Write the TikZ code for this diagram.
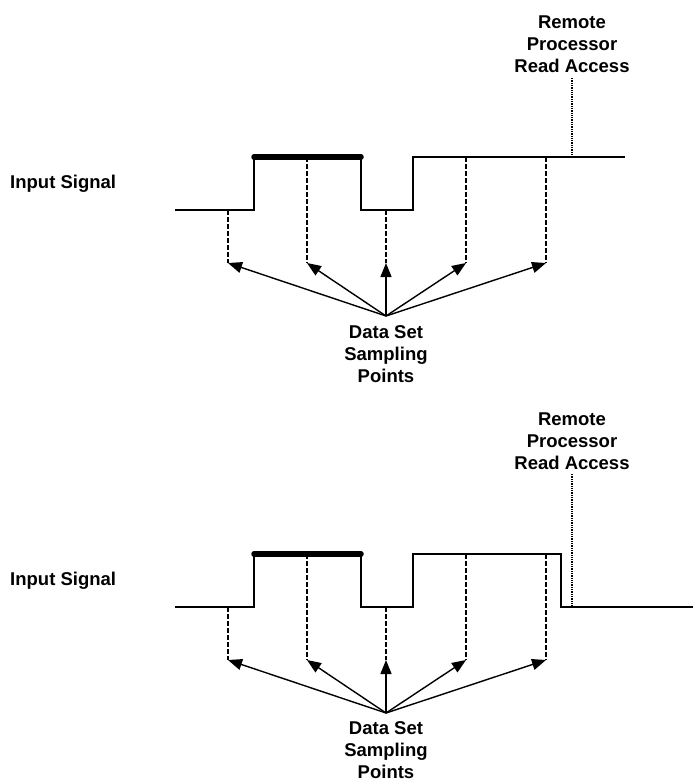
\documentclass[tikz,border=0pt]{standalone}
\usepackage{fontspec}
\setmainfont{Liberation Sans}
\usetikzlibrary{arrows.meta}
\begin{document}
\begin{tikzpicture}[x=1pt,y=-1pt,
 lbl/.style={font=\bfseries\fontsize{18.5}{22}\selectfont, align=center, inner sep=0pt},
 sig/.style={line width=2.2pt, line join=miter},
 bar/.style={line width=5.5pt, line cap=round},
 samp/.style={line width=2.2pt, dash pattern=on 4.5pt off 2.5pt},
 acc/.style={line width=1.8pt, dash pattern=on 1.3pt off 1pt},
 ptr/.style={line width=1.4pt, -{Triangle[length=14pt,width=11pt]}}]
\useasboundingbox (0,0) rectangle (693,782);

% ---------- top diagram ----------
\node[lbl, anchor=west] (in1) at (10,184) {Input Signal};
\coordinate (a0) at (175,210); \coordinate (a1) at (254,210);
\coordinate (a2) at (254,157); \coordinate (a3) at (361,157);
\coordinate (a4) at (361,210); \coordinate (a5) at (413,210);
\coordinate (a6) at (413,157); \coordinate (a7) at (625,157);
\draw[sig] (a0) -- (a1) -- (a2) -- (a3) -- (a4) -- (a5) -- (a6) -- (a7);
\draw[bar] (a2) -- (a3);

\coordinate (ap1) at (228,210); \coordinate (aq1) at (228,263);
\coordinate (ap2) at (307,157); \coordinate (aq2) at (307,263);
\coordinate (ap3) at (386,210); \coordinate (aq3) at (386,263);
\coordinate (ap4) at (466,157); \coordinate (aq4) at (466,263);
\coordinate (ap5) at (546,157); \coordinate (aq5) at (546,263);
\foreach \i in {1,...,5} { \draw[samp] (ap\i) -- (aq\i); }

\coordinate (ao) at (386,316);
\foreach \i in {1,...,5} { \draw[ptr] (ao) -- (aq\i); }
\node[lbl, anchor=north] (ads) at (386,325) {Data Set\\Sampling\\Points};

\node[lbl, anchor=south] (arm) at (572,73) {Remote\\Processor\\Read Access};
\coordinate (art) at (572,78); \coordinate (ar) at (572,157);
\draw[acc] (art) -- (ar);

% ---------- bottom diagram ----------
\node[lbl, anchor=west] (in2) at (10,581) {Input Signal};
\coordinate (b0) at (175,607); \coordinate (b1) at (254,607);
\coordinate (b2) at (254,554); \coordinate (b3) at (361,554);
\coordinate (b4) at (361,607); \coordinate (b5) at (413,607);
\coordinate (b6) at (413,554); \coordinate (b7) at (561,554);
\coordinate (b8) at (561,607); \coordinate (b9) at (693,607);
\draw[sig] (b0) -- (b1) -- (b2) -- (b3) -- (b4) -- (b5) -- (b6) -- (b7) -- (b8) -- (b9);
\draw[bar] (b2) -- (b3);

\coordinate (bp1) at (228,607); \coordinate (bq1) at (228,660);
\coordinate (bp2) at (307,554); \coordinate (bq2) at (307,660);
\coordinate (bp3) at (386,607); \coordinate (bq3) at (386,660);
\coordinate (bp4) at (466,554); \coordinate (bq4) at (466,660);
\coordinate (bp5) at (546,554); \coordinate (bq5) at (546,660);
\foreach \i in {1,...,5} { \draw[samp] (bp\i) -- (bq\i); }

\coordinate (bo) at (386,713);
\foreach \i in {1,...,5} { \draw[ptr] (bo) -- (bq\i); }
\node[lbl, anchor=north] (bds) at (386,721) {Data Set\\Sampling\\Points};

\node[lbl, anchor=south] (brm) at (572,470) {Remote\\Processor\\Read Access};
\coordinate (brt) at (572,474); \coordinate (br) at (572,607);
\draw[acc] (brt) -- (br);
\end{tikzpicture}
\end{document}
